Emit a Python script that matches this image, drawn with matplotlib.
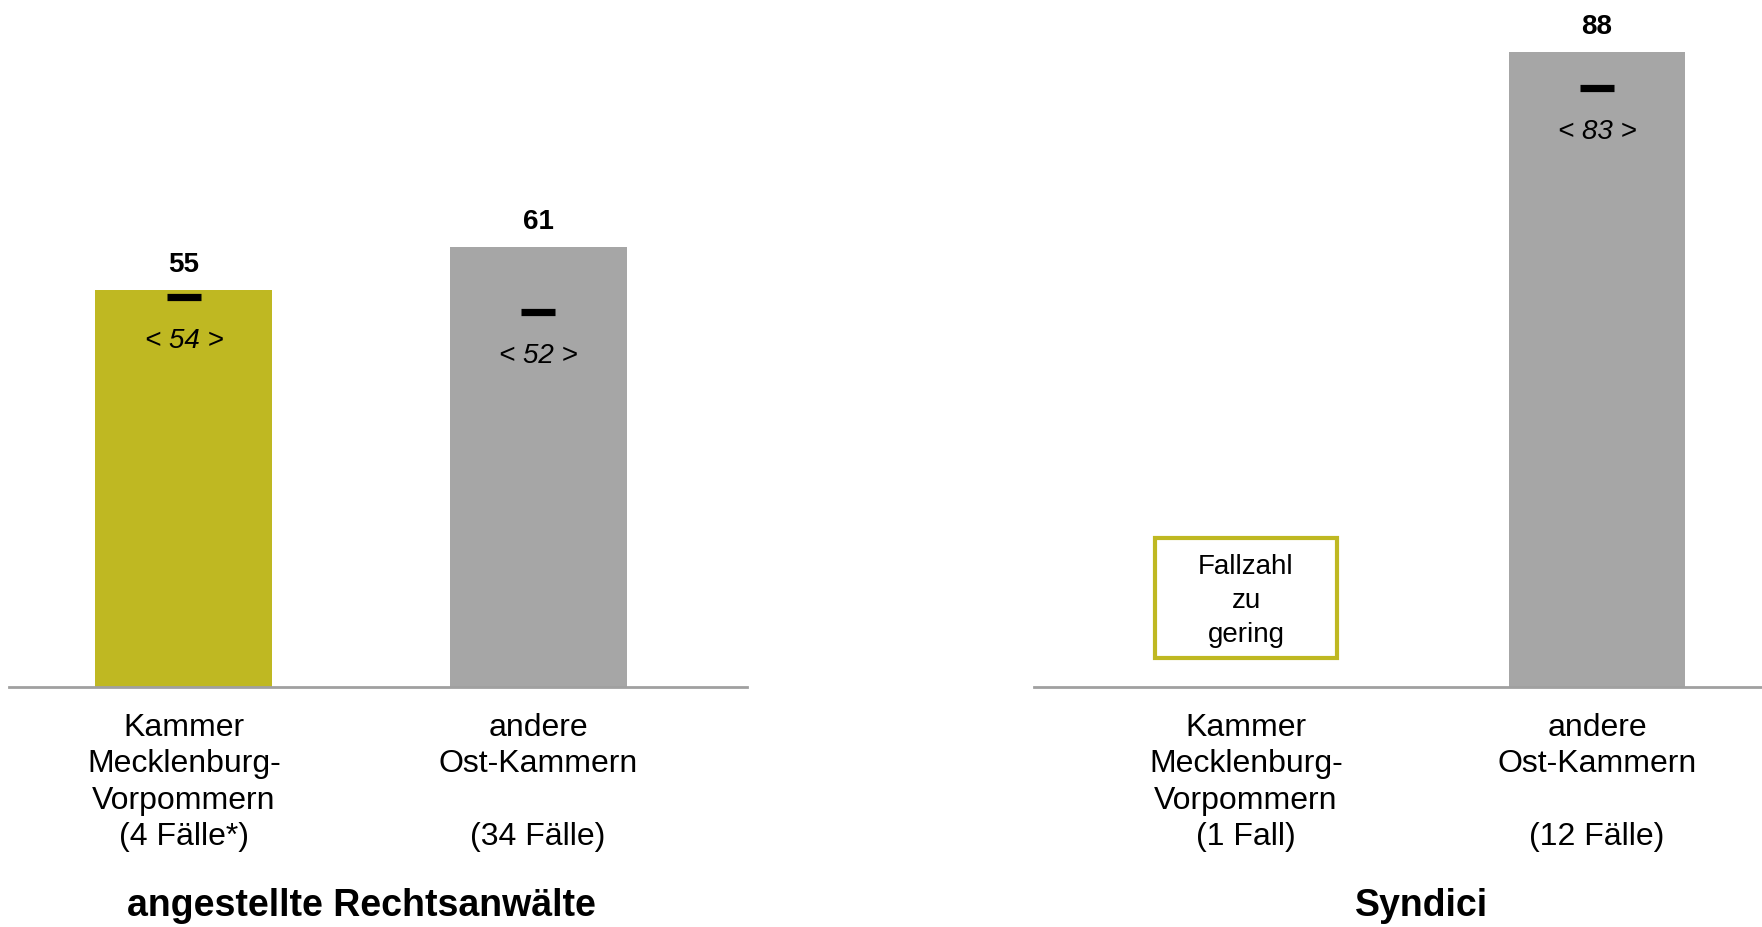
import matplotlib
matplotlib.use("Agg")
import matplotlib.pyplot as plt
from matplotlib.patches import Rectangle
from matplotlib.transforms import blended_transform_factory

plt.rcParams['font.family'] = ['Liberation Sans', 'DejaVu Sans']

# ---- data -------------------------------------------------------------
group_titles = ["angestellte Rechtsanwälte", "Syndici"]

labels_employed = ["Kammer\nMecklenburg-\nVorpommern\n(4 Fälle*)",
                   "andere\nOst-Kammern\n\n(34 Fälle)"]
mean_employed = [55, 61]
median_employed = [54, 52]

labels_syndici = ["Kammer\nMecklenburg-\nVorpommern\n(1 Fall)",
                  "andere\nOst-Kammern\n\n(12 Fälle)"]
mean_syndici = [None, 88]      # None: too few cases to report
median_syndici = [None, 83]

# ---- style ------------------------------------------------------------
OLIVE = "#BFB822"
GREY = "#A6A6A6"
AXIS_GREY = "#A0A0A0"
bar_colors = [OLIVE, GREY]
BAR_W = 0.5
YMAX = 95

W, H = 1762, 927
fig = plt.figure(figsize=(W / 100, H / 100), dpi=100)

base_px = 687
ax_bottom = (H - base_px) / H
ax_height = 686 / H

ax_l = fig.add_axes([9 / W, ax_bottom, 738 / W, ax_height])
ax_r = fig.add_axes([1034 / W, ax_bottom, 728 / W, ax_height])

panels = [
    (ax_l, labels_employed, mean_employed, median_employed, (-0.494, 1.59)),
    (ax_r, labels_syndici, mean_syndici, median_syndici, (-0.604, 1.47)),
]

for (ax, labels, means, medians, xlim), title in zip(panels, group_titles):
    ax.set_xlim(*xlim)
    ax.set_ylim(0, YMAX)
    for s in ("left", "right", "top"):
        ax.spines[s].set_visible(False)
    ax.spines["bottom"].set_color(AXIS_GREY)
    ax.spines["bottom"].set_linewidth(2)
    ax.set_yticks([])
    ax.set_xticks(range(len(labels)))
    ax.set_xticklabels(labels, fontsize=23, linespacing=1.28)
    ax.tick_params(axis="x", length=0, pad=18.5)

    for i, (m, med) in enumerate(zip(means, medians)):
        if m is None:
            # placeholder box for insufficient case numbers
            ax.add_patch(Rectangle((i - 0.26, 4.0), 0.52, 16.6,
                                   facecolor="white", edgecolor=OLIVE,
                                   linewidth=3, zorder=3))
            ax.text(i, 11.85, "Fallzahl\nzu\ngering", ha="center", va="center",
                    fontsize=20, linespacing=1.4, zorder=4)
            continue
        ax.bar(i, m, width=BAR_W, color=bar_colors[i], zorder=2)
        ax.annotate(f"{m}", (i, m), xytext=(0, 18), textcoords="offset points",
                    ha="center", va="center", fontsize=20, fontweight="bold")
        ax.plot([i], [med], marker="_", markersize=24, markeredgewidth=5.2,
                color="black", zorder=3)
        ax.annotate(f"< {med} >", (i, med), xytext=(0, -31.8),
                    textcoords="offset points", ha="center", va="center",
                    fontsize=20, fontstyle="italic")

    tr = blended_transform_factory(ax.transData, fig.transFigure)
    ax.text((len(labels) - 1) / 2, (H - 906) / H, title, transform=tr,
            ha="center", va="center", fontsize=27, fontweight="bold")

fig.savefig("out.png", dpi=100)
